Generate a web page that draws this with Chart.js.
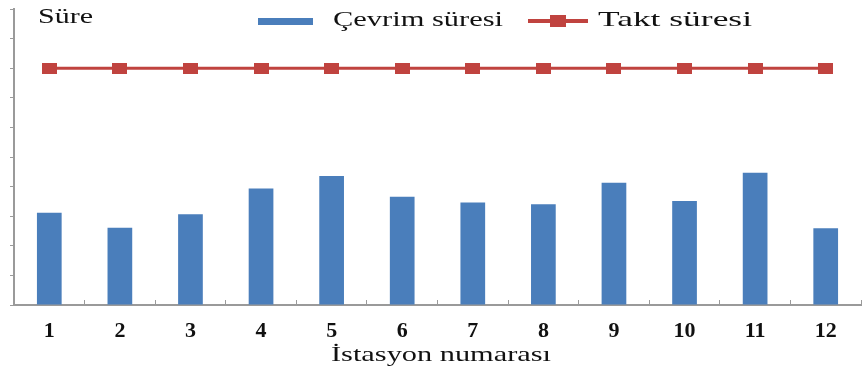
<!DOCTYPE html>
<html lang="tr">
<head>
  <meta charset="UTF-8" />
  <title>Çevrim süresi / Takt süresi</title>
  <script src="https://cdn.jsdelivr.net/npm/chart.js"></script>
  <style>
    body { margin: 0; background: #fff; }
  </style>
</head>
<body>
  <canvas id="chart" width="868" height="369"></canvas>

  <script>
    // data
    const stations = ['1', '2', '3', '4', '5', '6', '7', '8', '9', '10', '11', '12'];
    const cycleTimes = [3.12, 2.61, 3.07, 3.94, 4.36, 3.66, 3.46, 3.40, 4.13, 3.51, 4.47, 2.59];
    const taktTimes = [8, 8, 8, 8, 8, 8, 8, 8, 8, 8, 8, 8];
    const yMin = 0;
    const yMax = 10;
    const yStep = 1;

    const blue = '#4a7ebb';
    const red = '#c0433f';
    const axisGray = '#9a9a9a';
    const serif = '"Liberation Serif", "Times New Roman", serif';

    // wide square marker like the original
    function makeMarker(w, h) {
      const c = document.createElement('canvas');
      c.width = w;
      c.height = h;
      const g = c.getContext('2d');
      g.fillStyle = red;
      g.fillRect(0, 0, w, h);
      return c;
    }
    const marker = makeMarker(15, 11);

    // the source picture is stretched sideways, so texts are squeezed to a given width
    function stretchedText(c, text, x, baseline, width, size) {
      c.save();
      c.font = `${size}px ${serif}`;
      c.fillStyle = '#111';
      c.textBaseline = 'alphabetic';
      const w = c.measureText(text).width;
      c.translate(x, baseline);
      c.scale(width / w, 1);
      c.fillText(text, 0, 0);
      c.restore();
    }

    const overlay = {
      id: 'overlay',
      afterDraw(chart) {
        const c = chart.ctx;
        // y axis name sits at the top left
        stretchedText(c, 'Süre', 38, 23, 55, 22);
        // legend
        c.fillStyle = blue;
        c.fillRect(258, 18, 55, 7);
        stretchedText(c, 'Çevrim süresi', 333, 26, 170, 22);
        c.fillStyle = red;
        c.fillRect(528, 19, 60, 4);
        c.drawImage(makeMarker(16, 12), 550, 15);
        stretchedText(c, 'Takt süresi', 598, 26, 154, 22);
        // x axis name
        stretchedText(c, 'İstasyon numarası', 331, 361, 220, 22);
      }
    };

    const ctx = document.getElementById('chart').getContext('2d');
    new Chart(ctx, {
      type: 'bar',
      data: {
        labels: stations,
        datasets: [
          {
            type: 'line',
            label: 'Takt süresi',
            data: taktTimes,
            borderColor: red,
            backgroundColor: red,
            borderWidth: 3,
            pointStyle: marker,
            order: 1
          },
          {
            label: 'Çevrim süresi',
            data: cycleTimes,
            backgroundColor: blue,
            categoryPercentage: 1,
            barPercentage: 0.35,
            order: 2
          }
        ]
      },
      options: {
        responsive: false,
        animation: false,
        layout: { padding: { left: 10, right: 0, top: 9, bottom: 0 } },
        plugins: {
          legend: { display: false },
          tooltip: { enabled: false }
        },
        scales: {
          x: {
            offset: true,
            grid: { drawOnChartArea: false, tickLength: -5, color: axisGray, offset: true },
            border: { color: axisGray, width: 2 },
            ticks: {
              color: '#111',
              padding: 18,
              font: { family: serif, size: 22, weight: 'bold' }
            },
            afterFit: scale => { scale.height = 64; }
          },
          y: {
            min: yMin,
            max: yMax,
            ticks: { stepSize: yStep, display: false },
            grid: { drawOnChartArea: false, tickLength: 4, color: axisGray },
            border: { color: axisGray, width: 2 }
          }
        }
      },
      plugins: [overlay]
    });
  </script>
</body>
</html>
